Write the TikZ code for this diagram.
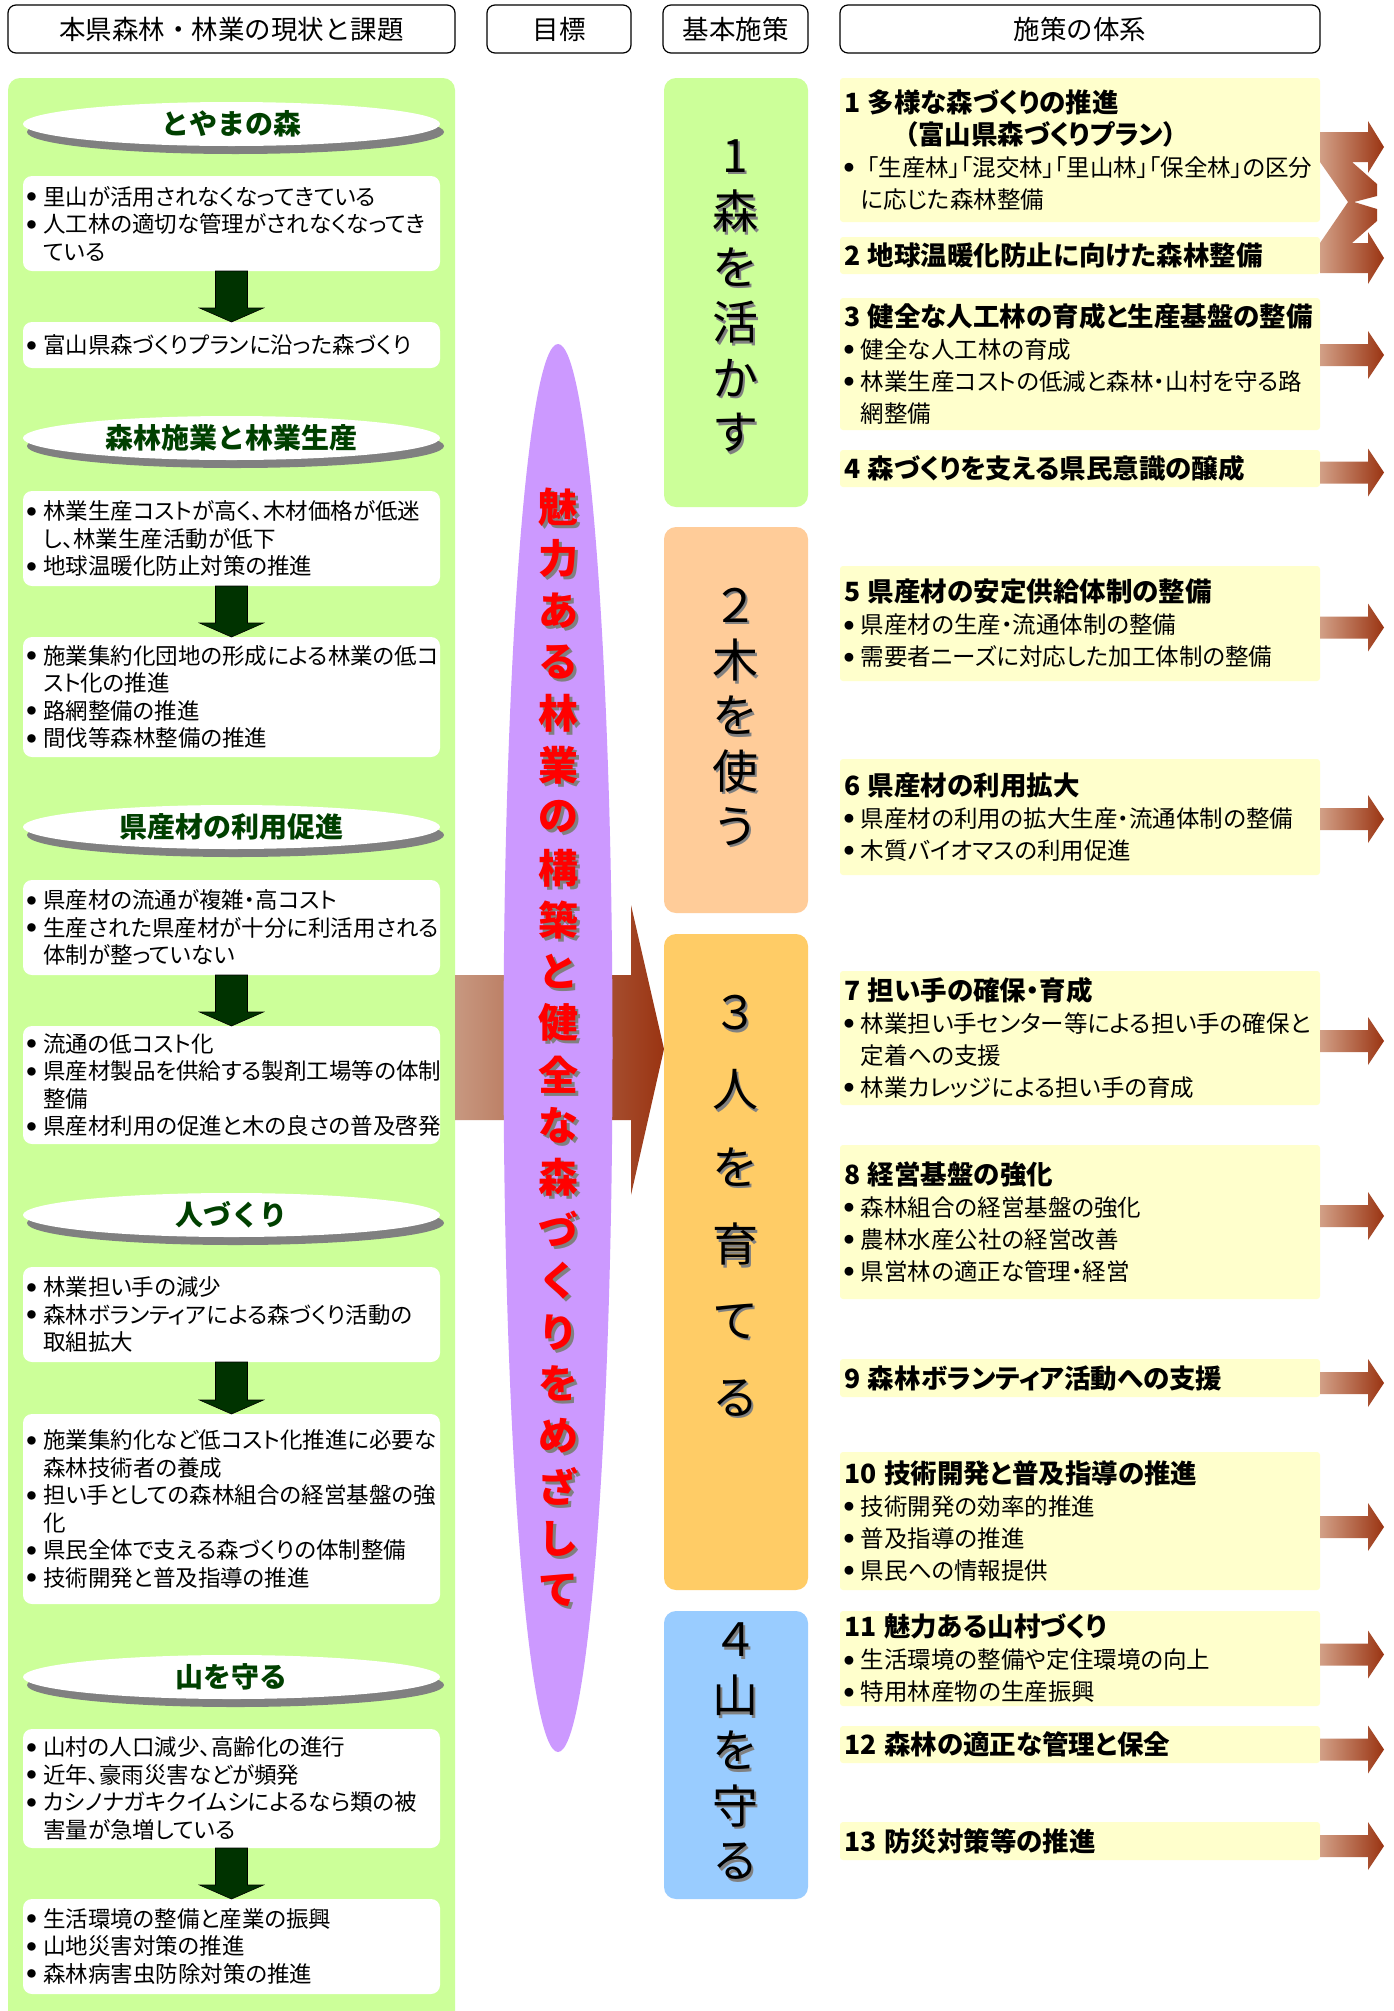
\documentclass[tikz,border=0pt]{standalone}
\usepackage{fontspec}
\setmainfont{Noto Sans CJK JP}
\newfontfamily\jpp{Noto Sans CJK JP}[RawFeature=+palt]
\usetikzlibrary{shapes.geometric,shadows,calc}
\definecolor{lgreen}{HTML}{CCFF99}
\definecolor{ryel}{HTML}{FFFFCC}
\definecolor{gorange}{HTML}{FFCC99}
\definecolor{gyellow}{HTML}{FFCC66}
\definecolor{gblue}{HTML}{99CCFF}
\definecolor{ppl}{HTML}{CC99FF}
\definecolor{tgreen}{HTML}{004000}
\definecolor{dgreen}{HTML}{003300}
\definecolor{shgray}{HTML}{808080}
\definecolor{arL}{RGB}{210,160,135}
\definecolor{arR}{RGB}{154,52,18}
\definecolor{pred}{HTML}{FF0000}
\newcommand\mybul{\makebox[0.72em][l]{\smash{\raisebox{0.2em}{\scalebox{0.42}{●}}}}}
\newcommand\myind{\hspace*{0.72em}}
\newcommand\myhd{\bfseries\fontsize{26.5}{32}\selectfont}
\newcommand\dnarrow[2]{%
  \filldraw[darr] ($(#1.south)+(-16,0)$) -- ($(#1.south)+(16,0)$) -- ($(#2.north)+(16,-14)$) -- ($(#2.north)+(32,-14)$) -- (#2.north) -- ($(#2.north)+(-32,-14)$) -- ($(#2.north)+(-16,-14)$) -- cycle;}
\newcommand\rarrow[2]{%
  \shade[left color=arL,right color=arR] ($(#1.east)+(0,{#2-11})$) -- ++(48,0) -- ++(0,-13) -- ++(16,24) -- ++(-16,24) -- ++(0,-13) -- ++(-48,0) -- cycle;}
\begin{document}
\begin{tikzpicture}[x=1pt,y=-1pt,
  hdr/.style={draw=black,line width=1.2pt,rounded corners=8pt,fill=white,minimum height=48pt,inner sep=0pt,outer sep=0pt,font=\fontsize{26.5}{30}\selectfont},
  lbox/.style={fill=white,rounded corners=9pt,anchor=north west,text width=409pt,inner xsep=4pt,inner ysep=0pt,outer sep=0pt,align=left,font=\jpp\fontsize{22.5}{27.5}\selectfont},
  rbox/.style={fill=ryel,rounded corners=3pt,anchor=north west,text width=472pt,inner xsep=4pt,inner ysep=0pt,outer sep=0pt,align=left,font=\jpp\fontsize{23.5}{32}\selectfont},
  gbox/.style={rounded corners=12pt,anchor=north west,minimum width=144pt,inner sep=0pt,outer sep=0pt},
  ttl/.style={ellipse,fill=white,minimum width=417pt,minimum height=44pt,inner sep=0pt,text=tgreen,font=\bfseries\fontsize{28}{30}\selectfont,drop shadow={shadow xshift=4pt,shadow yshift=-8pt,fill=shgray,opacity=1}},
  darr/.style={fill=dgreen,draw=black,line width=0.6pt},
  gtxt/.style={inner sep=0pt,font=\fontsize{46}{46}\selectfont},
  ptxt/.style={inner sep=0pt,font=\bfseries\fontsize{40}{40}\selectfont},
]
\useasboundingbox (0,0) rectangle (1394,2011);
\fill[white] (0,0) rectangle (1394,2011);

% headers
\node[hdr,minimum width=447pt] (h1) at (231.5,29) {本県森林・林業の現状と課題};
\node[hdr,minimum width=144pt] (h2) at (559,29) {目標};
\node[hdr,minimum width=145pt] (h3) at (735.5,29) {基本施策};
\node[hdr,minimum width=480pt] (h4) at (1080,29) {施策の体系};

% left panel
\node[fill=lgreen,rounded corners=12pt,anchor=north west,minimum width=447pt,minimum height=1965pt,inner sep=0pt,outer sep=0pt] (panel) at (8,78) {};

\node[ttl] (e1) at (231.5,124) {とやまの森};
\node[lbox,minimum height=95pt] (b1a) at (23,176) {\mybul 里山が活用されなくなってきている\\\mybul 人工林の適切な管理がされなくなってき\\\myind ている};
\node[lbox,minimum height=46pt] (b1b) at (23,322) {\mybul 富山県森づくりプランに沿った森づくり};
\dnarrow{b1a}{b1b}

\node[ttl] (e2) at (231.5,438) {森林施業と林業生産};
\node[lbox,minimum height=95pt] (b2a) at (23,491) {\mybul 林業生産コストが高く、木材価格が低迷\\\myind し、林業生産活動が低下\\\mybul 地球温暖化防止対策の推進};
\node[lbox,minimum height=120pt] (b2b) at (23,637) {\mybul 施業集約化団地の形成による林業の低コ\\\myind スト化の推進\\\mybul 路網整備の推進\\\mybul 間伐等森林整備の推進};
\dnarrow{b2a}{b2b}

\node[ttl] (e3) at (231.5,827) {県産材の利用促進};
\node[lbox,minimum height=95pt] (b3a) at (23,880) {\mybul 県産材の流通が複雑・高コスト\\\mybul 生産された県産材が十分に利活用される\\\myind 体制が整っていない};
\node[lbox,minimum height=118pt] (b3b) at (23,1026) {\mybul 流通の低コスト化\\\mybul 県産材製品を供給する製剤工場等の体制\\\myind 整備\\\mybul 県産材利用の促進と木の良さの普及啓発};
\dnarrow{b3a}{b3b}

\node[ttl] (e4) at (231.5,1215) {人づくり};
\node[lbox,minimum height=95pt] (b4a) at (23,1267) {\mybul 林業担い手の減少\\\mybul 森林ボランティアによる森づくり活動の\\\myind 取組拡大};
\node[lbox,minimum height=190pt] (b4b) at (23,1414) {\mybul 施業集約化など低コスト化推進に必要な\\\myind 森林技術者の養成\\\mybul 担い手としての森林組合の経営基盤の強\\\myind 化\\\mybul 県民全体で支える森づくりの体制整備\\\mybul 技術開発と普及指導の推進\\[6pt]};
\dnarrow{b4a}{b4b}

\node[ttl] (e5) at (231.5,1677) {山を守る};
\node[lbox,minimum height=119pt] (b5a) at (23,1729) {\mybul 山村の人口減少、高齢化の進行\\\mybul 近年、豪雨災害などが頻発\\\mybul カシノナガキクイムシによるなら類の被\\\myind 害量が急増している};
\node[lbox,minimum height=95pt] (b5b) at (23,1899) {\mybul 生活環境の整備と産業の振興\\\mybul 山地災害対策の推進\\\mybul 森林病害虫防除対策の推進};
\dnarrow{b5a}{b5b}

% big arrow
\shade[left color=arL!95!black,right color=arR] (455,975) -- (631,975) -- (631,905) -- (664,1049) -- (631,1195) -- (631,1120) -- (455,1120) -- cycle;

% purple ellipse
\node[ellipse,fill=ppl,minimum width=109pt,minimum height=1408pt,inner sep=0pt] (goal) at (558,1048) {};
\foreach \c [count=\i from 0] in {魅,力,あ,る,林,業,の,構,築,と,健,全,な,森,づ,く,り,を,め,ざ,し,て} {
  \node[ptxt,text=shgray] (ps\i) at ({558+3},{507+51.57*\i+3}) {\c};
  \node[ptxt,text=pred] (pc\i) at (558,{507+51.57*\i}) {\c};
}

% goal boxes
\node[gbox,fill=lgreen,minimum height=429pt] (g1) at (664,78) {};
\node[gbox,fill=gorange,minimum height=386pt] (g2) at (664,527) {};
\node[gbox,fill=gyellow,minimum height=656pt] (g3) at (664,934) {};
\node[gbox,fill=gblue,minimum height=288pt] (g4) at (664,1611) {};
\foreach \c [count=\i from 0] in {1,森,を,活,か,す} {
  \node[gtxt,text=shgray] (g1s\i) at (737.5,{156+55.4*\i+2.5}) {\c};
  \node[gtxt] (g1c\i) at (735,{156+55.4*\i}) {\c};}
\foreach \c [count=\i from 0] in {２,木,を,使,う} {
  \node[gtxt,text=shgray] (g2s\i) at (737.5,{605+55.3*\i+2.5}) {\c};
  \node[gtxt] (g2c\i) at (735,{605+55.3*\i}) {\c};}
\foreach \c [count=\i from 0] in {３,人,を,育,て,る} {
  \node[gtxt,text=shgray] (g3s\i) at (737.5,{1013+77*\i+2.5}) {\c};
  \node[gtxt] (g3c\i) at (735,{1013+77*\i}) {\c};}
\foreach \c [count=\i from 0] in {４,山,を,守,る} {
  \node[gtxt,text=shgray] (g4s\i) at (737.5,{1640+55.3*\i+2.5}) {\c};
  \node[gtxt] (g4c\i) at (735,{1640+55.3*\i}) {\c};}

% right boxes
\node[rbox,minimum height=144pt] (r1) at (840,78) {{\myhd 1 多様な森づくりの推進}\\{\myhd\hspace*{2.3em}（富山県森づくりプラン）}\\\mybul\kern0.25em「生産林」「混交林」「里山林」「保全林」の区分\\\myind に応じた森林整備};
\node[rbox,minimum height=37pt] (r2) at (840,237) {{\myhd 2 地球温暖化防止に向けた森林整備}};
\node[rbox,minimum height=132pt] (r3) at (840,298) {{\myhd 3 健全な人工林の育成と生産基盤の整備}\\\mybul 健全な人工林の育成\\\mybul 林業生産コストの低減と森林・山村を守る路\\\myind 網整備};
\node[rbox,minimum height=37pt] (r4) at (840,450) {{\myhd 4 森づくりを支える県民意識の醸成}};
\node[rbox,minimum height=115pt] (r5) at (840,566) {{\myhd 5 県産材の安定供給体制の整備}\\\mybul 県産材の生産・流通体制の整備\\\mybul 需要者ニーズに対応した加工体制の整備};
\node[rbox,minimum height=116pt] (r6) at (840,759) {{\myhd 6 県産材の利用拡大}\\\mybul 県産材の利用の拡大生産・流通体制の整備\\\mybul 木質バイオマスの利用促進};
\node[rbox,minimum height=134pt] (r7) at (840,971) {{\myhd 7 担い手の確保・育成}\\\mybul 林業担い手センター等による担い手の確保と\\\myind 定着への支援\\\mybul 林業カレッジによる担い手の育成};
\node[rbox,minimum height=154pt] (r8) at (840,1145) {{\myhd 8 経営基盤の強化}\\\mybul 森林組合の経営基盤の強化\\\mybul 農林水産公社の経営改善\\\mybul 県営林の適正な管理・経営};
\node[rbox,minimum height=38pt] (r9) at (840,1359) {{\myhd 9 森林ボランティア活動への支援}};
\node[rbox,minimum height=138pt] (r10) at (840,1452) {{\myhd 10 技術開発と普及指導の推進}\\\mybul 技術開発の効率的推進\\\mybul 普及指導の推進\\\mybul 県民への情報提供};
\node[rbox,minimum height=95pt] (r11) at (840,1611) {{\myhd 11 魅力ある山村づくり}\\\mybul 生活環境の整備や定住環境の向上\\\mybul 特用林産物の生産振興};
\node[rbox,minimum height=37pt] (r12) at (840,1726) {{\myhd 12 森林の適正な管理と保全}};
\node[rbox,minimum height=38pt] (r13) at (840,1822) {{\myhd 13 防災対策等の推進}};

% right arrows
\shade[left color=arL,right color=arR] (1320,132) -- (1368,132) -- (1368,121) -- (1384,147) -- (1368,173) -- (1368,162) -- (1352,162) -- (1377,184) -- (1377,196) -- (1354,202) -- (1377,209) -- (1377,221) -- (1352,243) -- (1368,243) -- (1368,232) -- (1384,258) -- (1368,284) -- (1368,273) -- (1320,273) -- (1320,243) -- (1348,202) -- (1320,162) -- cycle;
\rarrow{r3}{-9}
\rarrow{r4}{4}
\rarrow{r5}{4}
\rarrow{r6}{2}
\rarrow{r7}{3}
\rarrow{r8}{-6}
\rarrow{r9}{5}
\rarrow{r10}{6}
\rarrow{r11}{-4}
\rarrow{r12}{5}
\rarrow{r13}{5}
\end{tikzpicture}
\end{document}
